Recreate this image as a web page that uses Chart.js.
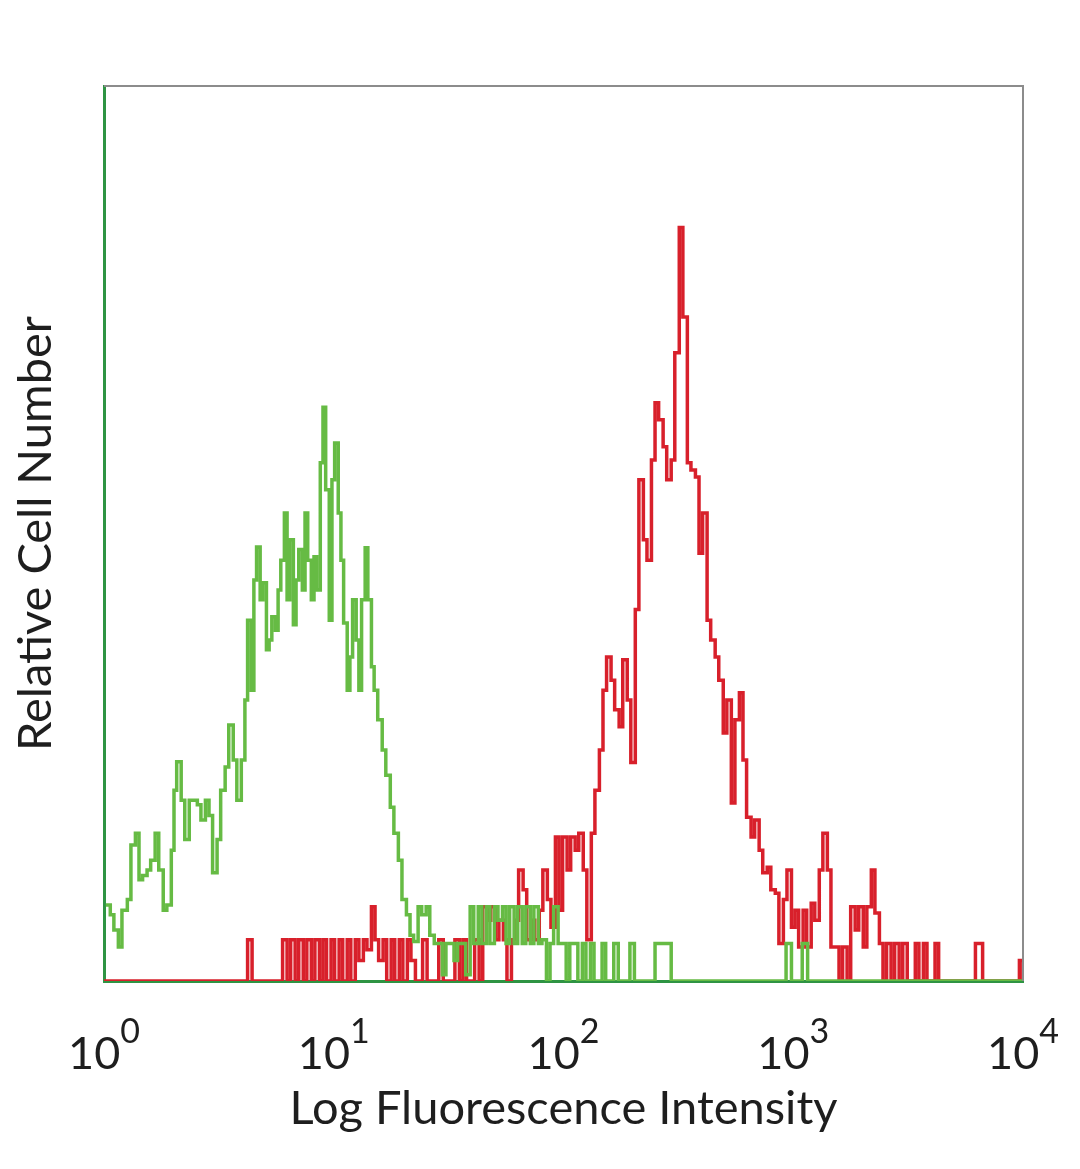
<!DOCTYPE html>
<html>
<head>
<meta charset="utf-8">
<title>Log Fluorescence Intensity histogram</title>
<script src="https://cdn.jsdelivr.net/npm/chart.js@4.4.1/dist/chart.umd.min.js"></script>
<style>
  html, body { margin: 0; padding: 0; background: #ffffff; }
  #wrap { width: 1080px; height: 1169px; }
</style>
</head>
<body>
<div id="wrap"><canvas id="c" width="1080" height="1169"></canvas></div>
<script>
// ---- Data (channel numbers on a 1024-channel, 4-decade log scale; relative counts) ----
const greenChannels = [2,7,11,16,20,26,30,35,39,43,48,52,57,61,66,70,75,78,81,86,90,95,99,104,108,113,117,121,126,130,135,139,144,148,153,157,160,164,167,170,174,177,181,184,187,191,194,197,201,204,207,211,214,217,221,224,227,231,234,237,241,244,247,251,254,257,261,264,267,271,274,277,281,284,287,291,294,298,301,305,310,314,319,323,328,332,337,341,345,350,354,359,363,368,372,377,381,386,390,394,399,403,408,412,417,421,426,430,435,439,444,448,452,457,461,466,470,475,479,484,488,493,497,501,506,510,515,519,524,528,533,537,542,546,550,555,559,564,568,573,577,586,591,614,632,760,766,778,784,1024];
const greenCounts   = [8.5,7.4,5.7,3.8,7.9,9.1,15.2,16.5,11.3,11.8,12.4,13.5,16.5,12.4,7.9,8.5,14.6,21.3,24.5,20.2,15.8,20.2,20.2,19.7,18.0,20.2,18.5,12.1,15.8,21.3,23.9,28.6,24.7,20.2,24.7,31.4,40.3,32.5,44.8,48.5,42.6,44.5,37.0,38.1,40.7,39.2,43.7,47.0,52.3,42.6,49.3,39.8,44.8,48.2,43.7,52.3,47.0,42.6,47.4,43.7,57.9,64.1,54.9,40.3,56.0,60.1,52.3,47.0,40.0,32.5,36.2,42.6,38.1,32.5,42.6,48.4,42.6,35.1,32.5,29.2,25.8,23.0,19.4,16.5,13.5,9.1,7.4,5.1,4.4,8.3,7.4,8.3,5.1,4.2,4.2,0.7,4.2,4.2,2.3,4.2,4.2,0.7,8.3,4.2,8.3,4.2,8.3,4.2,8.3,6.8,8.3,4.2,8.3,4.2,8.3,4.2,8.3,4.2,8.3,4.2,4.6,0,4.2,8.3,4.2,4.2,0,4.2,4.2,0,4.2,0,4.2,0,0,4.2,0,0,4.2,0,0,4.2,0,4.2,0,4.2,0,4.2,0,0];

const redChannels = [0,156,160,165,196,199,204,208,213,217,222,226,231,235,240,244,248,253,257,262,266,271,275,280,284,289,293,298,302,306,311,315,320,324,329,333,338,342,347,355,360,373,378,391,396,400,404,413,418,422,427,431,436,440,445,449,454,458,462,467,471,476,480,485,489,494,498,503,507,511,516,520,525,529,534,538,543,547,552,556,560,565,569,574,578,583,587,592,596,601,605,610,614,618,623,627,632,636,641,645,650,654,659,663,667,672,676,681,685,690,694,699,703,708,712,716,721,725,730,734,739,743,748,752,757,761,766,770,774,779,783,788,792,797,801,806,810,815,819,823,828,832,837,841,846,850,855,859,864,868,872,877,881,886,890,895,904,908,913,917,926,930,971,979,1020,1024];
const redCounts   = [0,0,4.6,0,0,4.6,0,4.6,0,4.6,0,4.6,0,4.6,0,4.6,0,4.6,0,4.6,0,4.6,0,4.6,2.3,4.6,3.5,8.3,4.6,2.3,4.6,0,4.6,0,4.6,0,4.6,2.3,0,4.6,0,4.6,0,4.6,0,4.6,0,4.6,0,8.3,6.8,8.3,4.6,6.8,4.6,0,4.6,6.8,12.4,10.2,4.6,6.8,4.6,7.9,12.4,9.1,6.0,16.1,7.9,16.1,12.4,16.1,14.6,16.5,12.4,4.6,16.5,21.3,25.8,32.5,36.2,33.6,30.3,28.4,35.9,31.4,24.4,41.5,56.0,49.3,47.0,58.2,64.6,62.7,59.7,56.0,58.2,70.2,84.2,74.2,57.9,57.1,56.3,47.8,52.3,40.3,38.1,36.2,33.6,27.7,31.4,19.9,29.2,32.2,24.7,18.3,16.1,18.0,14.6,12.1,12.7,10.2,9.8,4.2,9.1,12.4,6.0,7.9,3.8,7.9,3.8,8.7,6.8,12.4,16.5,12.4,3.8,3.8,0,3.8,0,8.3,5.7,8.3,3.8,8.3,12.4,7.6,4.2,0,4.2,0,4.2,0,4.2,0,4.2,0,4.2,0,4.2,0,4.2,0,2.3,0];

const tickValues = [1, 10, 100, 1000, 10000];
const tickBases  = ['10', '10', '10', '10', '10'];
const tickExps   = ['0', '1', '2', '3', '4'];

const xTitle = 'Log Fluorescence Intensity';
const yTitle = 'Relative Cell Number';

// ---- Build datasets (channel -> intensity, 256 channels per decade) ----
const toPoints = (ch, counts) => ch.map((c, i) => ({ x: Math.pow(10, c / 256), y: counts[i] }));

const FONT = 'Lato, "Open Sans", sans-serif';
const TEXT = '#1e1e1e';

const decorPlugin = {
  id: 'decor',
  afterDraw(chart) {
    const ctx = chart.ctx;
    const a = chart.chartArea;
    const xs = chart.scales.x;
    ctx.save();
    // top and right frame lines
    ctx.strokeStyle = '#8c8c8c';
    ctx.lineWidth = 2;
    ctx.beginPath();
    ctx.moveTo(a.left, a.top);
    ctx.lineTo(a.right, a.top);
    ctx.lineTo(a.right, a.bottom);
    ctx.stroke();
    // tick labels with superscript exponents
    ctx.fillStyle = TEXT;
    ctx.textBaseline = 'alphabetic';
    ctx.textAlign = 'left';
    tickValues.forEach((v, i) => {
      const px = xs.getPixelForValue(v);
      ctx.font = '45px ' + FONT;
      const w1 = ctx.measureText(tickBases[i]).width;
      ctx.font = '34px ' + FONT;
      const w2 = ctx.measureText(tickExps[i]).width;
      const x0 = px - (w1 + w2) / 2;
      ctx.font = '45px ' + FONT;
      ctx.fillText(tickBases[i], x0, 1069);
      ctx.font = '34px ' + FONT;
      ctx.fillText(tickExps[i], x0 + w1, 1043);
    });
    ctx.restore();
  }
};

new Chart(document.getElementById('c'), {
  type: 'line',
  data: {
    datasets: [
      {
        label: 'Stained',
        data: toPoints(redChannels, redCounts),
        borderColor: '#d8202b',
        borderWidth: 3.5,
        pointRadius: 0,
        stepped: true,
        fill: false,
        order: 2
      },
      {
        label: 'Control',
        data: toPoints(greenChannels, greenCounts),
        borderColor: '#66bb44',
        borderWidth: 3.5,
        pointRadius: 0,
        stepped: true,
        fill: false,
        order: 1
      }
    ]
  },
  options: {
    responsive: false,
    animation: false,
    devicePixelRatio: 1,
    layout: { padding: { top: 86, right: 57, left: 0, bottom: 0 } },
    plugins: { legend: { display: false }, tooltip: { enabled: false } },
    scales: {
      x: {
        type: 'logarithmic',
        min: 1,
        max: 10000,
        afterBuildTicks: (s) => { s.ticks = tickValues.map(v => ({ value: v })); },
        afterFit: (s) => { s.height = 188; },
        grid: { display: false, drawTicks: false },
        border: { display: true, color: '#2e9443', width: 3 },
        ticks: { display: false },
        title: {
          display: true,
          text: xTitle,
          color: TEXT,
          font: { family: FONT, size: 47 },
          padding: { top: 0, bottom: 32 }
        }
      },
      y: {
        type: 'linear',
        min: 0,
        max: 100,
        afterFit: (s) => { s.width = 104; },
        grid: { display: false, drawTicks: false },
        border: { display: true, color: '#2e9443', width: 3 },
        ticks: { display: false },
        title: {
          display: true,
          text: yTitle,
          color: TEXT,
          font: { family: FONT, size: 47 },
          padding: { top: 8, bottom: 0 }
        }
      }
    }
  },
  plugins: [decorPlugin]
});
</script>
</body>
</html>
